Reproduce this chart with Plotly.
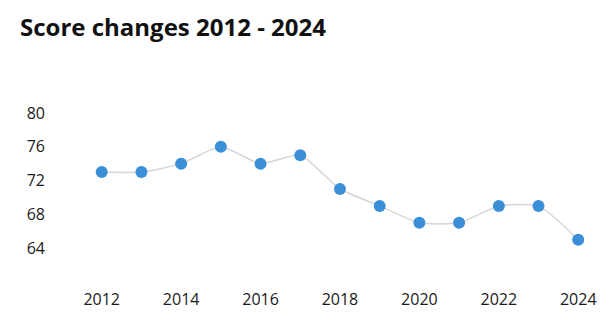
import plotly.graph_objects as go

years = [2012, 2013, 2014, 2015, 2016, 2017, 2018, 2019, 2020, 2021, 2022, 2023, 2024]
scores = [73, 73, 74, 76, 74, 75, 71, 69, 67, 67, 69, 69, 65]
y_ticks = [64, 68, 72, 76, 80]
x_ticks = [2012, 2014, 2016, 2018, 2020, 2022, 2024]

fig = go.Figure()
fig.add_trace(go.Scatter(
    x=years, y=scores, mode="lines+markers",
    line=dict(color="#d6d6d6", width=1.5, shape="spline", smoothing=0.55),
    marker=dict(color="#3a8fd6", size=12),
    hoverinfo="x+y",
))

fig.update_layout(
    width=615, height=335,
    margin=dict(l=62, r=5, t=96, b=53),
    paper_bgcolor="white", plot_bgcolor="white",
    showlegend=False,
    font=dict(family="Open Sans", size=16, color="#1a1a1a"),
    title=dict(text="<b>Score changes 2012 - 2024</b>", x=20/615, xanchor="left",
               y=1 - 28/335, yanchor="middle", xref="container",
               font=dict(family="Open Sans", size=24, color="#111111")),
)
fig.update_xaxes(range=[2011, 2024.8], tickvals=x_ticks, showgrid=False, zeroline=False,
                 showline=False, ticks="", ticklabelstandoff=6)
fig.update_yaxes(range=[60, 82], tickvals=y_ticks, showgrid=False, zeroline=False,
                 showline=False, ticks="", ticklabelstandoff=16)

fig.write_html("out.html")
